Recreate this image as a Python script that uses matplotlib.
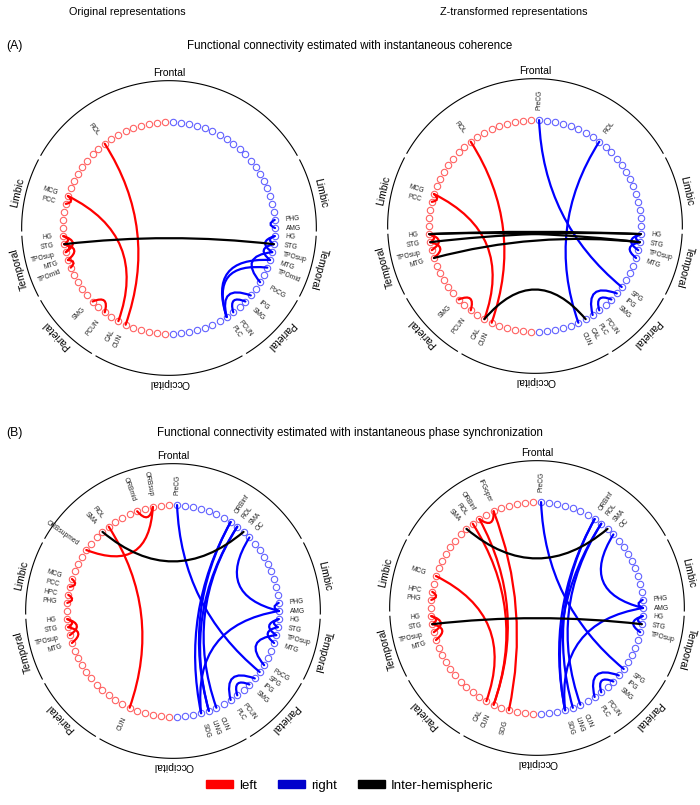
import numpy as np
import matplotlib
matplotlib.use("Agg")
import matplotlib.pyplot as plt
from matplotlib.path import Path
from matplotlib.patches import PathPatch, Patch

plt.rcParams['font.family'] = ['Liberation Sans', 'DejaVu Sans']

W, H = 700, 805

# ---------------- data ----------------
regions = ["PreCG", "SFGdor", "ORBsup", "MFG", "ORBmid", "IFGoper", "IFGtri", "ORBinf", "ROL", "SMA",
           "OC", "SFGmed", "ORBsupmed", "REC",
           "INS", "ACG", "MCG", "PCC", "HPC", "PHG", "AMG",
           "HG", "STG", "TPOsup", "MTG", "TPOmid", "ITG",
           "PoCG", "SPG", "IPG", "SMG", "ANG", "PCUN", "PLC",
           "CAL", "CUN", "LING", "SOG", "MOG", "IOG", "FFG"]
lobe_names = ["Frontal", "Limbic", "Temporal", "Parietal", "Occipital"]
lobe_sizes = [14, 7, 6, 7, 7]

column_titles = ["Original representations", "Z-transformed representations"]
section_titles = ["Functional connectivity estimated with instantaneous coherence",
                  "Functional connectivity estimated with instantaneous phase synchronization"]
section_tags = ["(A)", "(B)"]
legend_labels = ["left", "right", "Inter-hemispheric"]

# edges: (hemisphere.region, hemisphere.region)
edges_A_orig = [("L.ROL", "L.CUN"), ("L.MCG", "L.CAL"), ("L.MCG", "L.PCC"), ("L.HG", "L.STG"),
                ("L.HG", "L.TPOsup"), ("L.STG", "L.TPOsup"), ("L.STG", "L.MTG"), ("L.MTG", "L.TPOmid"),
                ("L.SMG", "L.PCUN"),
                ("R.PHG", "R.AMG"), ("R.HG", "R.STG"), ("R.HG", "R.TPOsup"), ("R.STG", "R.MTG"),
                ("R.TPOsup", "R.PoCG"), ("R.MTG", "R.PLC"), ("R.TPOmid", "R.PLC"), ("R.IPG", "R.PLC"),
                ("R.SMG", "R.PCUN"),
                ("L.STG", "R.STG")]
edges_A_z = [("L.ROL", "L.CUN"), ("L.MCG", "L.CAL"), ("L.MCG", "L.PCC"), ("L.HG", "L.STG"),
             ("L.HG", "L.TPOsup"), ("L.STG", "L.MTG"), ("L.SMG", "L.PCUN"),
             ("R.PreCG", "R.SPG"), ("R.ROL", "R.CUN"), ("R.HG", "R.STG"), ("R.HG", "R.TPOsup"),
             ("R.STG", "R.MTG"), ("R.IPG", "R.PLC"), ("R.SMG", "R.PCUN"),
             ("L.CAL", "R.CAL"), ("L.HG", "R.HG"), ("L.HG", "R.STG"), ("L.STG", "R.HG"),
             ("L.MTG", "R.STG")]
edges_B_orig = [("L.ORBsup", "L.ORBmid"), ("L.ORBsup", "L.ORBsupmed"), ("L.ROL", "L.CUN"),
                ("L.MCG", "L.PCC"), ("L.HPC", "L.PHG"), ("L.HG", "L.STG"), ("L.HG", "L.TPOsup"),
                ("L.STG", "L.MTG"),
                ("R.PreCG", "R.SPG"), ("R.ORBinf", "R.SOG"), ("R.ORBinf", "R.LING"), ("R.ROL", "R.LING"),
                ("R.ROL", "R.CUN"), ("R.OC", "R.AMG"), ("R.AMG", "R.SOG"), ("R.PHG", "R.AMG"),
                ("R.HG", "R.STG"), ("R.HG", "R.TPOsup"), ("R.STG", "R.MTG"), ("R.TPOsup", "R.PoCG"),
                ("R.IPG", "R.PLC"), ("R.SMG", "R.PCUN"),
                ("L.SMA", "R.SMA")]
edges_B_z = [("L.IFGoper", "L.ORBinf"), ("L.ROL", "L.CUN"), ("L.ORBinf", "L.CUN"), ("L.IFGoper", "L.SOG"),
             ("L.MCG", "L.CAL"), ("L.HPC", "L.PHG"), ("L.HG", "L.STG"), ("L.HG", "L.TPOsup"),
             ("L.STG", "L.MTG"),
             ("R.PreCG", "R.SPG"), ("R.ORBinf", "R.SOG"), ("R.ORBinf", "R.LING"), ("R.ROL", "R.SOG"),
             ("R.ROL", "R.CUN"), ("R.OC", "R.AMG"), ("R.AMG", "R.SOG"), ("R.PHG", "R.AMG"),
             ("R.HG", "R.STG"), ("R.HG", "R.TPOsup"), ("R.IPG", "R.PLC"), ("R.SMG", "R.PCUN"),
             ("L.SMA", "R.SMA"), ("L.STG", "R.STG")]

# ---------------- style / layout ----------------
N_HEMI = len(regions)
STEP = 360.0 / (2 * N_HEMI)
NODE_COL = {"L": "#ff3b3b", "R": "#3b3bff"}
EDGE_COL = {"L": "#ff0000", "R": "#0000ff", "X": "#000000"}
SCALE = 106.0
LIM = 1.75

fig = plt.figure(figsize=(W / 100, H / 100), dpi=100)


def ang(hemi, k):
    if hemi == "L":
        return 90 + STEP / 2 + STEP * k
    return 90 - STEP / 2 - STEP * k


def xy(a, r=1.0):
    t = np.deg2rad(a)
    return np.array([r * np.cos(t), r * np.sin(t)])


def parse(node):
    h, name = node.split(".")
    return h, regions.index(name)


def make_ax(cx, cy):
    ax = fig.add_axes([(cx - LIM * SCALE) / W, 1 - (cy + LIM * SCALE) / H,
                       2 * LIM * SCALE / W, 2 * LIM * SCALE / H])
    ax.set_xlim(-LIM, LIM)
    ax.set_ylim(-LIM, LIM)
    ax.axis("off")
    return ax


def draw_panel(ax, edges):
    # nodes
    for h in ("L", "R"):
        a = np.array([ang(h, k) for k in range(N_HEMI)])
        ax.plot(np.cos(np.deg2rad(a)), np.sin(np.deg2rad(a)), "o", mfc="none",
                mec=NODE_COL[h], ms=4.6, mew=0.8, alpha=0.8, zorder=2)
    # lobe arcs and labels
    g = 1.15
    starts = np.cumsum([0] + lobe_sizes[:-1])
    Rarc, Rlab = 1.39, 1.465
    for i, (nm, s0, n) in enumerate(zip(lobe_names, starts, lobe_sizes)):
        e0 = s0 + n - 1
        if nm == "Frontal":
            segs = [(ang("R", e0) - g, ang("L", e0) + g)]
            mids = [90.0]
        elif nm == "Occipital":
            segs = [(ang("L", s0) - g, ang("R", s0) + 360 + g)]
            mids = [270.0]
        else:
            segs = [(ang("L", s0) - g, ang("L", e0) + g), (ang("R", e0) - g, ang("R", s0) + g)]
            mids = [(ang("L", s0) + ang("L", e0)) / 2, (ang("R", s0) + ang("R", e0)) / 2]
        for a0, a1 in segs:
            t = np.deg2rad(np.linspace(a0, a1, 120))
            ax.plot(Rarc * np.cos(t), Rarc * np.sin(t), color="black", lw=0.8, zorder=1)
        for m in mids:
            p = xy(m, Rlab)
            ax.text(p[0], p[1], nm, rotation=m - 90, rotation_mode="anchor",
                    ha="center", va="center", fontsize=7.5)
    # edges
    labelled = set()
    for n1, n2 in edges:
        h1, k1 = parse(n1)
        h2, k2 = parse(n2)
        labelled.add((h1, k1))
        labelled.add((h2, k2))
        a1, a2 = ang(h1, k1), ang(h2, k2)
        p0, p2 = xy(a1), xy(a2)
        d = abs((a1 - a2 + 180) % 360 - 180)
        sm = p0 + p2
        ns = np.linalg.norm(sm)
        u = sm / ns if ns > 1e-9 else np.zeros(2)
        c = u * np.exp(-d / 50.0)
        col = EDGE_COL[h1] if h1 == h2 else EDGE_COL["X"]
        path = Path([p0, c, p2], [Path.MOVETO, Path.CURVE3, Path.CURVE3])
        ax.add_patch(PathPatch(path, fc="none", ec=col, lw=1.6, capstyle="round", zorder=3))
    # node labels
    for h, k in labelled:
        a = ang(h, k)
        p = xy(a, 1.10)
        if h == "L":
            ax.text(p[0], p[1], regions[k], rotation=a - 180, rotation_mode="anchor",
                    ha="right", va="center", fontsize=4.8, color="#222222")
        else:
            ax.text(p[0], p[1], regions[k], rotation=a, rotation_mode="anchor",
                    ha="left", va="center", fontsize=4.8, color="#222222")


panels = [((169, 228), edges_A_orig), ((535, 226), edges_A_z),
          ((173, 611), edges_B_orig), ((537, 608), edges_B_z)]
for (cx, cy), ed in panels:
    draw_panel(make_ax(cx, cy), ed)

# titles
fig.text(127 / W, 1 - 12 / H, column_titles[0], ha="center", va="center", fontsize=7.8)
fig.text(514 / W, 1 - 12 / H, column_titles[1], ha="center", va="center", fontsize=7.8)
for tag, title, y in zip(section_tags, section_titles, [46, 433]):
    fig.text(6 / W, 1 - y / H, tag, ha="left", va="center", fontsize=8.8)
    fig.text(350 / W, 1 - y / H, title, ha="center", va="center", fontsize=8.3)

handles = [Patch(color="#ff0000"), Patch(color="#0000cc"), Patch(color="#000000")]
fig.legend(handles, legend_labels, loc="center", bbox_to_anchor=(350 / W, 1 - 786 / H), ncol=3,
           frameon=False, fontsize=9.5, handlelength=2.0, handleheight=0.55,
           columnspacing=1.6, handletextpad=0.5)

fig.savefig("out.png", dpi=100)
